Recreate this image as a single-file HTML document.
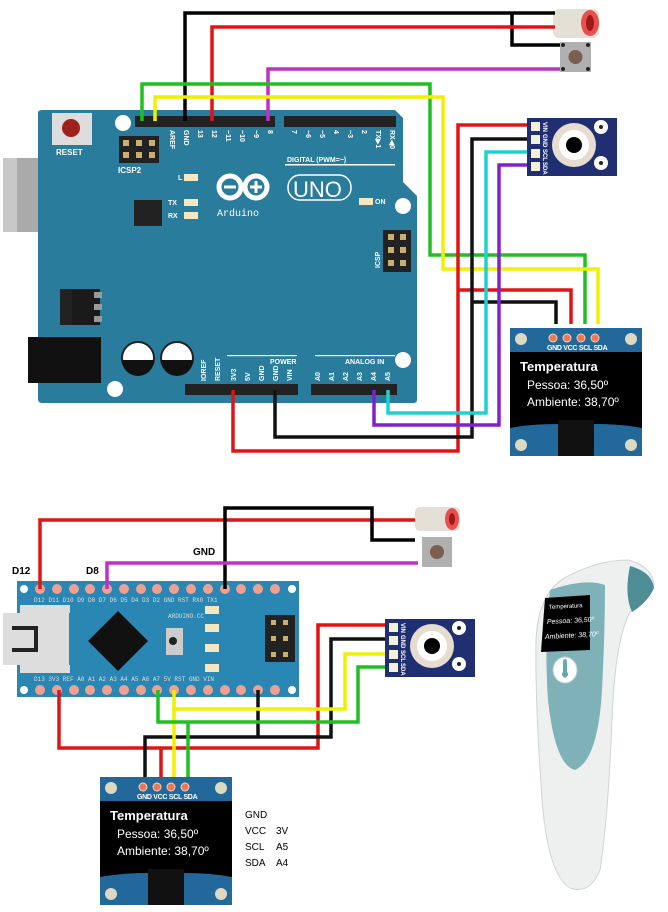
<!DOCTYPE html>
<html><head><meta charset="utf-8"><style>
html,body{margin:0;padding:0;background:#fff;}
svg{display:block;font-family:"Liberation Sans",sans-serif;}
</style></head><body>
<svg width="668" height="912" viewBox="0 0 668 912" xmlns="http://www.w3.org/2000/svg">
<defs>
<g id="sensor">
  <rect x="0" y="0" width="90" height="58" fill="#1f2f72"/>
  <rect x="4" y="4" width="9" height="9" fill="#f3f1d8"/>
  <rect x="4" y="17" width="9" height="9" fill="#f3f1d8"/>
  <rect x="4" y="31" width="9" height="9" fill="#f3f1d8"/>
  <rect x="4" y="44" width="9" height="9" fill="#f3f1d8"/>
  <g fill="#fff" font-size="6" font-weight="bold">
    <text transform="translate(16,4) rotate(90)">VIN</text>
    <text transform="translate(16,16) rotate(90)">GND</text>
    <text transform="translate(16,31) rotate(90)">SCL</text>
    <text transform="translate(16,44) rotate(90)">SDA</text>
  </g>
  <circle cx="47" cy="27" r="22" fill="#e6ddd0"/>
  <circle cx="47" cy="27" r="15" fill="#fff"/>
  <circle cx="47" cy="27" r="8" fill="#000"/>
  <circle cx="74" cy="9" r="7" fill="#fff"/><circle cx="74" cy="9" r="2" fill="#222"/>
  <circle cx="74" cy="45" r="7" fill="#fff"/><circle cx="74" cy="45" r="2" fill="#222"/>
</g>
<g id="oled">
  <rect x="0" y="0" width="132" height="128" fill="#23689a"/>
  <rect x="0" y="24" width="132" height="68" fill="#000"/>
  <path d="M0 92 L0 100 Q20 96 48 96 L48 92 Z M132 92 L132 100 Q112 96 84 96 L84 92Z" fill="#000"/>
  <rect x="48" y="92" width="36" height="36" fill="#111"/>
  <circle cx="11" cy="11" r="6" fill="#ddd8c0"/><circle cx="121" cy="11" r="6" fill="#ddd8c0"/>
  <circle cx="11" cy="117" r="6" fill="#ddd8c0"/><circle cx="121" cy="117" r="6" fill="#ddd8c0"/>
  <g fill="#e87a5a" stroke="#fbd0b8" stroke-width="1">
  <circle cx="43" cy="10" r="4"/><circle cx="57" cy="10" r="4"/><circle cx="71" cy="10" r="4"/><circle cx="85" cy="10" r="4"/></g>
  <text x="37" y="22" fill="#fff" font-size="7" font-weight="bold" letter-spacing="-0.3">GND VCC SCL SDA</text>
  <text x="10" y="43" fill="#fff" font-size="13" font-weight="bold">Temperatura</text>
  <text x="17" y="61" fill="#fff" font-size="12">Pessoa: 36,50º</text>
  <text x="17" y="78" fill="#fff" font-size="12">Ambiente: 38,70º</text>
</g>
</defs>

<!-- ===== TOP: UNO ===== -->
<!-- usb -->
<rect x="3" y="158" width="88" height="74" fill="#aaa"/>
<rect x="3" y="158" width="14" height="74" fill="#c8c8c8"/>
<!-- board -->
<path d="M38 113 Q38 110 42 110 L395 110 L403 118 L403 182 L417 196 L417 400 Q417 403 413 403 L42 403 Q38 403 38 399 Z" fill="#2a7c9d"/>
<rect x="28" y="337" width="73" height="46" fill="#111"/>
<rect x="60" y="289" width="32" height="36" fill="#222"/>
<rect x="72" y="289" width="28" height="36" fill="#1a1a1a"/>
<rect x="94" y="292" width="8" height="6" fill="#999"/><rect x="94" y="304" width="8" height="6" fill="#999"/><rect x="94" y="316" width="8" height="6" fill="#999"/>
<rect x="134" y="200" width="28" height="26" fill="#222"/>
<circle cx="138" cy="358" r="16" fill="#fff" stroke="#222" stroke-width="2"/>
<path d="M122 360 A16 16 0 0 0 154 360 Z" fill="#111"/>
<circle cx="177" cy="358" r="16" fill="#fff" stroke="#222" stroke-width="2"/>
<path d="M161 360 A16 16 0 0 0 193 360 Z" fill="#111"/>
<circle cx="123" cy="123" r="8" fill="#fff"/><circle cx="403" cy="206" r="8" fill="#fff"/>
<circle cx="403" cy="360" r="8" fill="#fff"/><circle cx="115" cy="389" r="8" fill="#fff"/>
<!-- reset -->
<rect x="52" y="113" width="40" height="32" fill="#ddd"/>
<circle cx="71" cy="128" r="9" fill="#a0201c"/>
<text x="56" y="155" fill="#fff" font-size="8" font-weight="bold">RESET</text>
<!-- icsp2 -->
<rect x="119" y="136" width="40" height="27" fill="#222"/>
<g fill="#c8b070"><rect x="123" y="140" width="6" height="6"/><rect x="136" y="140" width="6" height="6"/><rect x="149" y="140" width="6" height="6"/><rect x="123" y="152" width="6" height="6"/><rect x="136" y="152" width="6" height="6"/><rect x="149" y="152" width="6" height="6"/></g>
<text x="118" y="173" fill="#fff" font-size="8" font-weight="bold">ICSP2</text>
<!-- headers -->
<rect x="135" y="116" width="140" height="11" fill="#222"/>
<rect x="284" y="116" width="112" height="11" fill="#222"/>
<rect x="185" y="384" width="113" height="11" fill="#222"/>
<rect x="311" y="384" width="86" height="11" fill="#222"/>
<g fill="#fff" font-size="7" font-weight="bold">
<text transform="translate(170,130) rotate(90)">AREF</text>
<text transform="translate(184,130) rotate(90)">GND</text>
<text transform="translate(198,130) rotate(90)">13</text>
<text transform="translate(212,130) rotate(90)">12</text>
<text transform="translate(226,130) rotate(90)">~11</text>
<text transform="translate(240,130) rotate(90)">~10</text>
<text transform="translate(254,130) rotate(90)">~9</text>
<text transform="translate(268,130) rotate(90)">8</text>
<text transform="translate(292,130) rotate(90)">7</text>
<text transform="translate(306,130) rotate(90)">~6</text>
<text transform="translate(320,130) rotate(90)">~5</text>
<text transform="translate(334,130) rotate(90)">4</text>
<text transform="translate(348,130) rotate(90)">~3</text>
<text transform="translate(362,130) rotate(90)">2</text>
<text transform="translate(376,130) rotate(90)">TX▶1</text>
<text transform="translate(390,130) rotate(90)">RX◀0</text>
<text transform="translate(206,381) rotate(-90)">IOREF</text>
<text transform="translate(220,381) rotate(-90)">RESET</text>
<text transform="translate(236,381) rotate(-90)">3V3</text>
<text transform="translate(250,381) rotate(-90)">5V</text>
<text transform="translate(264,381) rotate(-90)">GND</text>
<text transform="translate(278,381) rotate(-90)">GND</text>
<text transform="translate(292,381) rotate(-90)">VIN</text>
<text transform="translate(320,381) rotate(-90)">A0</text>
<text transform="translate(334,381) rotate(-90)">A1</text>
<text transform="translate(348,381) rotate(-90)">A2</text>
<text transform="translate(362,381) rotate(-90)">A3</text>
<text transform="translate(376,381) rotate(-90)">A4</text>
<text transform="translate(390,381) rotate(-90)">A5</text>
<text x="287" y="162">DIGITAL (PWM=~)</text>
<text x="270" y="364">POWER</text>
<text x="345" y="364">ANALOG IN</text>
<text x="178" y="180">L</text><text x="168" y="205">TX</text><text x="168" y="218">RX</text>
<text x="375" y="204">ON</text>
</g>
<rect x="285" y="164" width="110" height="1.5" fill="#fff"/>
<rect x="227" y="355" width="70" height="1.2" fill="#fff"/>
<rect x="315" y="355" width="80" height="1.2" fill="#fff"/>
<g fill="#f5e8c0"><rect x="184" y="174" width="14" height="7"/><rect x="184" y="199" width="14" height="7"/><rect x="184" y="212" width="14" height="7"/><rect x="359" y="198" width="14" height="7"/></g>
<!-- icsp -->
<rect x="383" y="230" width="28" height="42" fill="#222"/>
<g fill="#c8b070"><rect x="388" y="234" width="6" height="6"/><rect x="400" y="234" width="6" height="6"/><rect x="388" y="247" width="6" height="6"/><rect x="400" y="247" width="6" height="6"/><rect x="388" y="260" width="6" height="6"/><rect x="400" y="260" width="6" height="6"/></g>
<text transform="translate(380,268) rotate(-90)" fill="#fff" font-size="7" font-weight="bold">ICSP</text>
<!-- logo -->
<g fill="none" stroke="#fff" stroke-width="5"><circle cx="230" cy="187" r="11"/><circle cx="256" cy="187" r="11"/></g>
<rect x="224" y="185.5" width="12" height="3" fill="#fff"/><rect x="250" y="185.5" width="12" height="3" fill="#fff"/><rect x="254.5" y="181" width="3" height="12" fill="#fff"/>
<rect x="288" y="175" width="63" height="25" rx="12" fill="none" stroke="#fff" stroke-width="1.5"/>
<text x="293" y="197" fill="#fff" font-size="22">UNO</text>
<text x="217" y="216" fill="#fff" font-size="10" font-family="Liberation Mono,monospace">Arduino</text>

<!-- top components -->
<rect x="553" y="9" width="46" height="29" rx="6" fill="#e4e0d6"/>
<ellipse cx="590" cy="23" rx="9" ry="13" fill="#e85050"/><ellipse cx="590" cy="23" rx="4" ry="8" fill="#a01818"/>
<rect x="560" y="42" width="31" height="30" fill="#b0b0b0"/>
<circle cx="575.5" cy="57" r="7" fill="#7a5e50"/>
<g fill="#222"><circle cx="563" cy="45" r="2"/><circle cx="588" cy="45" r="2"/><circle cx="563" cy="69" r="2"/><circle cx="588" cy="69" r="2"/></g>

<!-- top wires -->
<g fill="none" stroke-width="3.5" stroke-linejoin="miter">
<polyline stroke="#000" points="185,121 185,13 555,13"/>
<polyline stroke="#000" points="512,13 512,45 560,45"/>
<polyline stroke="#e01414" points="212,121 212,27 555,27"/>
<polyline stroke="#c030c8" points="268,121 268,69 560,69"/>
<polyline stroke="#20c020" points="142,121 142,84 430,84 430,255 585,255 585,324"/>
<polyline stroke="#f0f000" points="155,121 155,97 443,97 443,269 598,269 598,324"/>
<polyline stroke="#e01414" points="233,390 233,451 458,451 458,125 528,125"/>
<polyline stroke="#e01414" points="458,290 571,290 571,324"/>
<polyline stroke="#111" points="275,390 275,437 472,437 472,139 528,139"/>
<polyline stroke="#111" points="472,302 556,302 556,324"/>
<polyline stroke="#20d0d0" points="388,390 388,413 486,413 486,152 528,152"/>
<polyline stroke="#8020d0" points="374,390 374,425 499,425 499,165 528,165"/>
</g>
<use href="#sensor" x="527" y="118"/>
<use href="#oled" x="510" y="328"/>

<!-- ===== BOTTOM: NANO ===== -->
<rect x="17" y="581" width="282" height="116" fill="#2a86b3"/>
<rect x="3" y="613" width="66" height="52" fill="#ddd"/>
<rect x="20" y="605" width="50" height="8" fill="#ddd"/><rect x="20" y="665" width="50" height="8" fill="#ddd"/>
<rect x="12" y="626" width="25" height="4" fill="#222"/><rect x="12" y="648" width="25" height="4" fill="#222"/>
<rect x="34" y="626" width="4" height="26" fill="#222"/>
<polygon points="118,611 148,641 118,671 88,641" fill="#111"/>
<rect x="166" y="628" width="17" height="27" fill="#ccc"/><circle cx="173" cy="641" r="4" fill="#222"/>
<rect x="265" y="615" width="30" height="47" fill="#222"/>
<g fill="#c8b070"><rect x="271" y="620" width="5" height="5"/><rect x="283" y="620" width="5" height="5"/><rect x="271" y="636" width="5" height="5"/><rect x="283" y="636" width="5" height="5"/><rect x="271" y="652" width="5" height="5"/><rect x="283" y="652" width="5" height="5"/></g>
<g fill="#f5e8c0"><rect x="205" y="606" width="14" height="8"/><rect x="205" y="624" width="14" height="8"/><rect x="205" y="644" width="14" height="8"/><rect x="205" y="664" width="14" height="8"/></g>
<g fill="#f0a090">
<circle cx="40" cy="589" r="5"/><circle cx="57" cy="589" r="5"/><circle cx="74" cy="589" r="5"/><circle cx="90" cy="589" r="5"/><circle cx="107" cy="589" r="5"/><circle cx="124" cy="589" r="5"/><circle cx="141" cy="589" r="5"/><circle cx="157" cy="589" r="5"/><circle cx="174" cy="589" r="5"/><circle cx="191" cy="589" r="5"/><circle cx="208" cy="589" r="5"/><circle cx="225" cy="589" r="5"/><circle cx="241" cy="589" r="5"/><circle cx="258" cy="589" r="5"/><circle cx="275" cy="589" r="5"/>
<circle cx="40" cy="690" r="5"/><circle cx="57" cy="690" r="5"/><circle cx="74" cy="690" r="5"/><circle cx="90" cy="690" r="5"/><circle cx="107" cy="690" r="5"/><circle cx="124" cy="690" r="5"/><circle cx="141" cy="690" r="5"/><circle cx="157" cy="690" r="5"/><circle cx="174" cy="690" r="5"/><circle cx="191" cy="690" r="5"/><circle cx="208" cy="690" r="5"/><circle cx="225" cy="690" r="5"/><circle cx="241" cy="690" r="5"/><circle cx="258" cy="690" r="5"/><circle cx="275" cy="690" r="5"/>
</g>
<g fill="#fff"><circle cx="24" cy="589" r="4"/><circle cx="292" cy="589" r="4"/><circle cx="24" cy="690" r="4"/><circle cx="292" cy="690" r="4"/></g>
<g fill="#ddd" font-size="6" font-family="Liberation Mono,monospace">
<text x="34" y="602">D12 D11 D10  D9  D8  D7  D6  D5  D4  D3  D2 GND RST RX0 TX1</text>
<text x="34" y="681">D13 3V3 REF  A0  A1  A2  A3  A4  A5  A6  A7  5V RST GND VIN</text>
<text x="168" y="618">ARDUINO.CC</text>
</g>
<g fill="#000" font-size="10" font-weight="bold">
<text x="12" y="574">D12</text><text x="86" y="574">D8</text><text x="193" y="555">GND</text>
</g>
<rect x="415" y="507" width="45" height="24" rx="5" fill="#e4e0d6"/>
<ellipse cx="452" cy="519" rx="7" ry="11" fill="#e85050"/><ellipse cx="452" cy="519" rx="3" ry="6" fill="#a01818"/>
<rect x="422" y="537" width="30" height="30" fill="#b0b0b0"/><circle cx="437" cy="552" r="7" fill="#7a5e50"/>
<g fill="none" stroke-width="3.5">
<polyline stroke="#e01414" points="40,589 40,520 415,520"/>
<polyline stroke="#000" points="225,589 225,508 372,508 372,540 415,540"/>
<polyline stroke="#c030c8" points="107,589 107,563 418,563"/>
<polyline stroke="#e01414" points="386,625 318,625 318,748 59,748 59,690"/>
<polyline stroke="#e01414" points="161,748 161,777"/>
<polyline stroke="#111" points="386,639 331,639 331,737 145,737 145,777"/>
<polyline stroke="#111" points="258,690 258,737"/>
<polyline stroke="#f0f000" points="386,654 345,654 345,709 174,709 174,690"/>
<polyline stroke="#f0f000" points="174,709 174,777"/>
<polyline stroke="#20c020" points="386,667 358,667 358,722 158,722 158,690"/>
<polyline stroke="#20c020" points="188,722 188,777"/>
</g>
<use href="#sensor" x="385" y="619"/>
<use href="#oled" x="100" y="777"/>
<g fill="#000" font-size="10">
<text x="245" y="818">GND</text>
<text x="245" y="834">VCC</text><text x="276" y="834">3V</text>
<text x="245" y="850">SCL</text><text x="276" y="850">A5</text>
<text x="245" y="866">SDA</text><text x="276" y="866">A4</text>
</g>

<!-- thermometer -->
<path d="M628 560 Q652 566 654 585 Q650 600 630 612 Q615 640 612 720 Q608 820 600 870 Q590 895 570 888 Q548 875 542 800 Q535 700 536 640 Q538 590 570 575 Q600 560 628 560 Z" fill="#eef0f0" stroke="#d0d4d4"/>
<path d="M630 566 Q652 572 654 588 Q648 602 632 612 Q624 595 630 566Z" fill="#4e8c96"/>
<path d="M550 590 Q585 578 605 585 Q605 630 602 690 Q598 760 575 770 Q555 765 548 700 Q544 640 550 590Z" fill="#7fb2b8"/>
<polygon points="545,598 590,595 590,650 541,652" fill="#000"/>
<text x="549" y="609" fill="#fff" font-size="6" transform="rotate(-3 549 609)">Temperatura</text>
<text x="547" y="624" fill="#fff" font-size="7" font-style="italic" transform="rotate(-3 547 624)">Pessoa: 36,50º</text>
<text x="545" y="639" fill="#fff" font-size="7" font-style="italic" transform="rotate(-3 545 639)">Ambiente: 38,70º</text>
<ellipse cx="565" cy="670" rx="12" ry="13" fill="#fff" stroke="#b8cfd2"/>
<path d="M563 662 Q563 659 565 659 Q567 659 567 662 L567 672 Q570 675 565 678 Q560 675 563 672Z" fill="#6aa8b0"/>
</svg>
</body></html>
